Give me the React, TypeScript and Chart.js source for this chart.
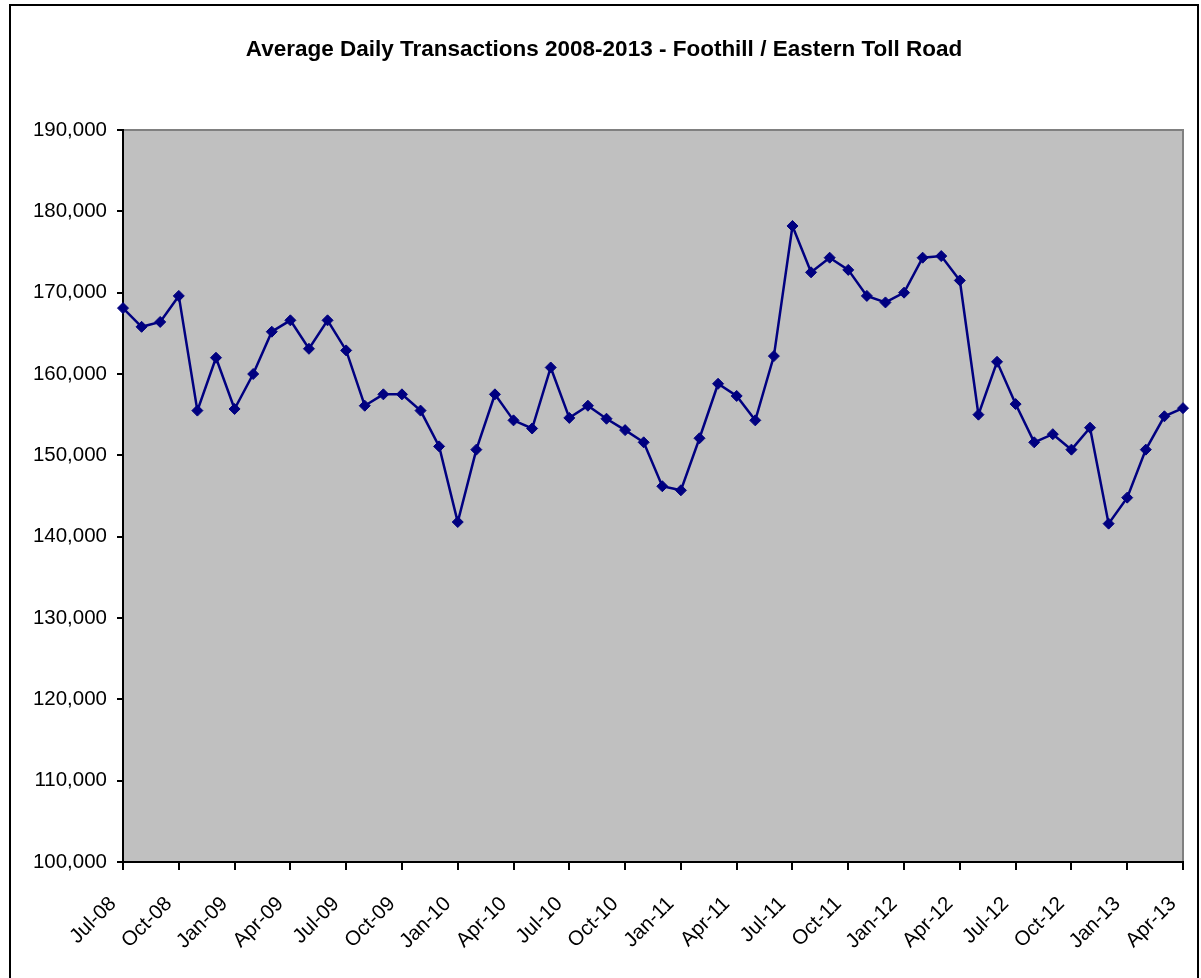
import React, { useEffect, useRef } from "react";
import { Chart, registerables } from "chart.js";

Chart.register(...registerables);

const TITLE = "Average Daily Transactions 2008-2013 - Foothill / Eastern Toll Road";

const months: string[] = [
  "Jul-08", "Aug-08", "Sep-08", "Oct-08", "Nov-08", "Dec-08",
  "Jan-09", "Feb-09", "Mar-09", "Apr-09", "May-09", "Jun-09",
  "Jul-09", "Aug-09", "Sep-09", "Oct-09", "Nov-09", "Dec-09",
  "Jan-10", "Feb-10", "Mar-10", "Apr-10", "May-10", "Jun-10",
  "Jul-10", "Aug-10", "Sep-10", "Oct-10", "Nov-10", "Dec-10",
  "Jan-11", "Feb-11", "Mar-11", "Apr-11", "May-11", "Jun-11",
  "Jul-11", "Aug-11", "Sep-11", "Oct-11", "Nov-11", "Dec-11",
  "Jan-12", "Feb-12", "Mar-12", "Apr-12", "May-12", "Jun-12",
  "Jul-12", "Aug-12", "Sep-12", "Oct-12", "Nov-12", "Dec-12",
  "Jan-13", "Feb-13", "Mar-13", "Apr-13",
];

const transactions: number[] = [
  168100, 165800, 166400, 169600, 155500, 162000,
  155700, 160000, 165200, 166600, 163100, 166600,
  162900, 156100, 157500, 157500, 155500, 151100,
  141800, 150700, 157500, 154300, 153300, 160800,
  154600, 156100, 154500, 153100, 151600, 146200,
  145700, 152100, 158800, 157300, 154300, 162200,
  178200, 172500, 174300, 172800, 169600, 168800,
  170000, 174300, 174500, 171500, 155000, 161500,
  156300, 151600, 152600, 150700, 153400, 141600,
  144800, 150700, 154800, 155800,
];

const Y_MIN = 100000;
const Y_MAX = 190000;
const Y_STEP = 10000;

const FONT = "'Liberation Sans', Arial, sans-serif";

const plotBg = {
  id: "plotBg",
  beforeDraw(chart: any) {
    const { ctx, chartArea } = chart;
    const { left, top, right, bottom } = chartArea;
    ctx.save();
    ctx.fillStyle = "#C0C0C0";
    ctx.fillRect(left, top, right - left, bottom - top);
    ctx.strokeStyle = "#808080";
    ctx.lineWidth = 2;
    ctx.beginPath();
    ctx.moveTo(left, top);
    ctx.lineTo(right, top);
    ctx.lineTo(right, bottom);
    ctx.stroke();
    ctx.restore();
  },
};

export default function App() {
  const ref = useRef<HTMLCanvasElement | null>(null);

  useEffect(() => {
    if (!ref.current) return;
    const chart = new Chart(ref.current, {
      type: "line",
      data: {
        labels: months,
        datasets: [
          {
            data: transactions,
            borderColor: "#000080",
            backgroundColor: "#000080",
            borderWidth: 2.5,
            pointStyle: "rectRot",
            pointRadius: 5.5,
            pointBorderWidth: 1,
            pointBackgroundColor: "#000080",
            pointBorderColor: "#000080",
            tension: 0,
            clip: false as any,
          },
        ],
      },
      options: {
        animation: false,
        responsive: false,
        devicePixelRatio: 1,
        layout: { padding: { left: 7, right: 0, top: 0, bottom: 0 } },
        plugins: {
          legend: { display: false },
          tooltip: { enabled: false },
          title: {
            display: true,
            text: TITLE,
            color: "#000",
            font: { family: FONT, size: 22.5, weight: "bold" },
            padding: { top: 36, bottom: 67 },
          },
        },
        scales: {
          x: {
            type: "category",
            offset: false,
            border: { color: "#000", width: 2 },
            grid: {
              drawOnChartArea: false,
              drawTicks: true,
              tickLength: 8,
              lineWidth: 2,
              tickColor: (c: any) => (c.index % 3 === 0 ? "#000" : "rgba(0,0,0,0)"),
            },
            ticks: {
              autoSkip: false,
              maxRotation: 45,
              minRotation: 45,
              color: "#000",
              padding: 22,
              labelOffset: -10,
              font: { family: FONT, size: 20.5 },
              callback: function (this: any, value: any, index: number) {
                return index % 3 === 0 ? this.getLabelForValue(value) : "";
              },
            },
            afterFit: (s: any) => {
              s.height = 116;
              s.paddingLeft = 0;
              s.paddingRight = 18;
            },
          },
          y: {
            min: Y_MIN,
            max: Y_MAX,
            border: { color: "#000", width: 2 },
            grid: {
              drawOnChartArea: false,
              tickLength: 6,
              lineWidth: 2,
              tickColor: "#000",
            },
            ticks: {
              stepSize: Y_STEP,
              color: "#000",
              padding: 10,
              font: { family: FONT, size: 20.5 },
              callback: (v: any) => Number(v).toLocaleString("en-US"),
            },
            afterFit: (s: any) => {
              s.width = 116;
            },
          },
        },
      },
      plugins: [plotBg],
    });
    return () => chart.destroy();
  }, []);

  return (
    <div
      style={{
        position: "absolute",
        left: 0,
        top: 0,
        width: 1201,
        height: 978,
        overflow: "hidden",
        background: "#fff",
      }}
    >
      <div
        style={{
          position: "absolute",
          left: 9,
          top: 4,
          width: 1190,
          height: 1100,
          border: "2px solid #000",
          boxSizing: "border-box",
        }}
      />
      <canvas
        ref={ref}
        width={1201}
        height={978}
        style={{ position: "absolute", left: 0, top: 0, width: 1201, height: 978 }}
      />
    </div>
  );
}
